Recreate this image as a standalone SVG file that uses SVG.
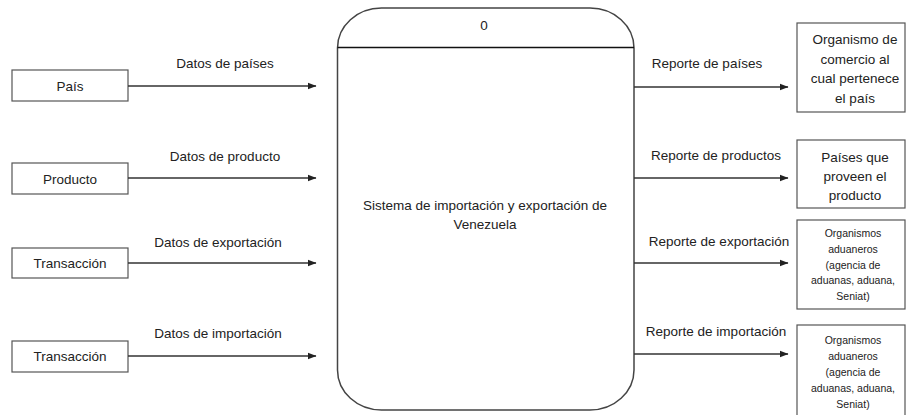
<svg xmlns="http://www.w3.org/2000/svg" width="907" height="415" viewBox="0 0 907 415">
<style>
text{font-family:"Liberation Sans",Arial,sans-serif;fill:#222;text-anchor:middle}
.lbl{font-size:13.5px}
.sm{font-size:10.5px}
.box{fill:#fff;stroke:#555;stroke-width:1.2}
.flow{stroke:#333;stroke-width:1.6;fill:none;marker-end:url(#ah)}
</style>
<defs>
<marker id="ah" markerUnits="userSpaceOnUse" markerWidth="9" markerHeight="8" refX="8.5" refY="4" orient="auto">
<path d="M0,0.5 L9,4 L0,7.5 z" fill="#222"/>
</marker>
</defs>
<rect width="907" height="415" fill="#fff"/>
<g id="ext-pais"><rect class="box" x="12" y="70" width="116" height="31"/><text class="lbl" x="70" y="91">País</text></g>
<g id="ext-producto"><rect class="box" x="12" y="163" width="116" height="31"/><text class="lbl" x="70" y="184">Producto</text></g>
<g id="ext-transaccion1"><rect class="box" x="12" y="248" width="116" height="30"/><text class="lbl" x="70" y="268">Transacción</text></g>
<g id="ext-transaccion2"><rect class="box" x="12" y="341" width="116" height="31"/><text class="lbl" x="70" y="361">Transacción</text></g>
<g id="process">
<rect x="337.5" y="8" width="296.5" height="402" rx="44" ry="40" fill="#fff" stroke="#444" stroke-width="1.5"/>
<line x1="337.5" y1="47.5" x2="634" y2="47.5" stroke="#111" stroke-width="1.3"/>
<text class="lbl" x="484" y="30">0</text>
<text class="lbl" x="485" y="210">Sistema de importación y exportación de</text>
<text class="lbl" x="485" y="229">Venezuela</text>
</g>
<g id="ext-organismo-comercio"><rect class="box" x="797" y="23" width="108" height="89"/>
<text class="lbl" x="855" y="44">Organismo de</text><text class="lbl" x="855" y="63.5">comercio al</text><text class="lbl" x="855" y="83">cual pertenece</text><text class="lbl" x="855" y="102.5">el país</text></g>
<g id="ext-paises-proveen"><rect class="box" x="797" y="140" width="108" height="68"/>
<text class="lbl" x="855" y="162">Países que</text><text class="lbl" x="855" y="181">proveen el</text><text class="lbl" x="855" y="200">producto</text></g>
<g id="ext-aduaneros1"><rect class="box" x="797" y="220" width="108" height="89"/>
<text class="sm" x="853" y="237">Organismos</text><text class="sm" x="853" y="253">aduaneros</text><text class="sm" x="853" y="268.5">(agencia de</text><text class="sm" x="853" y="284">aduanas, aduana,</text><text class="sm" x="853" y="299.5">Seniat)</text></g>
<g id="ext-aduaneros2"><rect class="box" x="797" y="325" width="108" height="95"/>
<text class="sm" x="853" y="344">Organismos</text><text class="sm" x="853" y="360">aduaneros</text><text class="sm" x="853" y="376">(agencia de</text><text class="sm" x="853" y="392">aduanas, aduana,</text><text class="sm" x="853" y="408">Seniat)</text></g>
<g id="connectors">
<line class="flow" x1="128" y1="86" x2="316" y2="86"/>
<line class="flow" x1="128" y1="178" x2="316" y2="178"/>
<line class="flow" x1="128" y1="263" x2="316" y2="263"/>
<line class="flow" x1="128" y1="356" x2="316" y2="356"/>
<line class="flow" x1="634" y1="87" x2="788" y2="87"/>
<line class="flow" x1="634" y1="178" x2="788" y2="178"/>
<line class="flow" x1="634" y1="263" x2="788" y2="263"/>
<line class="flow" x1="634" y1="354" x2="788" y2="354"/>
<text class="lbl" x="225" y="68">Datos de países</text>
<text class="lbl" x="225" y="161">Datos de producto</text>
<text class="lbl" x="218" y="247">Datos de exportación</text>
<text class="lbl" x="218" y="338">Datos de importación</text>
<text class="lbl" x="707" y="68">Reporte de países</text>
<text class="lbl" x="716" y="160">Reporte de productos</text>
<text class="lbl" x="719" y="246">Reporte de exportación</text>
<text class="lbl" x="716" y="336">Reporte de importación</text>
</g>
</svg>
